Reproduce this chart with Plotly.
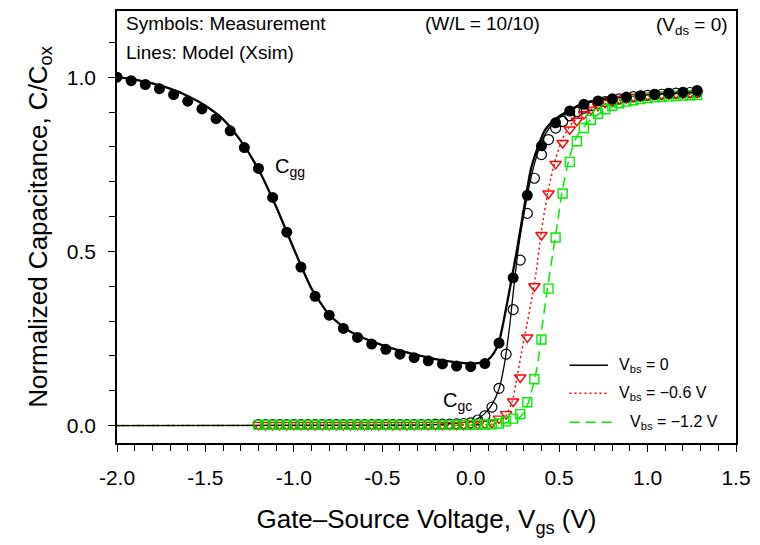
import plotly.graph_objects as go

# ---------------- measured data ----------------
# Cgg sweep (filled circles)
vgs_cgg = [-2.00, -1.92, -1.84, -1.76, -1.68, -1.60, -1.52, -1.44, -1.36, -1.28,
           -1.20, -1.12, -1.04, -0.96, -0.88, -0.80, -0.72, -0.64, -0.56, -0.48,
           -0.40, -0.32, -0.24, -0.16, -0.08, 0.00, 0.08, 0.16, 0.24, 0.32,
           0.40, 0.48, 0.56, 0.64, 0.72, 0.80, 0.88, 0.96, 1.04, 1.12,
           1.20, 1.28]
cgg_meas = [1.000, 0.990, 0.979, 0.967, 0.950, 0.931, 0.909, 0.881, 0.846, 0.798,
            0.738, 0.655, 0.555, 0.455, 0.371, 0.317, 0.279, 0.253, 0.234, 0.219,
            0.205, 0.195, 0.186, 0.177, 0.171, 0.169, 0.178, 0.237, 0.424, 0.661,
            0.803, 0.869, 0.903, 0.922, 0.932, 0.938, 0.943, 0.947, 0.951, 0.954,
            0.957, 0.962]

# Cgc sweeps for three body biases
vgs_cgc = [-1.20, -1.16, -1.12, -1.08, -1.04, -1.00, -0.96, -0.92, -0.88, -0.84,
           -0.80, -0.76, -0.72, -0.68, -0.64, -0.60, -0.56, -0.52, -0.48, -0.44,
           -0.40, -0.36, -0.32, -0.28, -0.24, -0.20, -0.16, -0.12, -0.08, -0.04,
           0.00, 0.04, 0.08, 0.12, 0.16, 0.20, 0.24, 0.28, 0.32, 0.36,
           0.40, 0.44, 0.48, 0.52, 0.56, 0.60, 0.64, 0.68, 0.72, 0.76,
           0.80, 0.84, 0.88, 0.92, 0.96, 1.00, 1.04, 1.08, 1.12, 1.16,
           1.20, 1.24, 1.28]
cgc_vbs0 = [0.003, 0.003, 0.003, 0.003, 0.003, 0.003, 0.003, 0.003, 0.003, 0.003,
            0.003, 0.003, 0.003, 0.003, 0.003, 0.003, 0.003, 0.003, 0.003, 0.003,
            0.003, 0.003, 0.003, 0.003, 0.003, 0.004, 0.004, 0.004, 0.005, 0.006,
            0.008, 0.016, 0.028, 0.053, 0.107, 0.205, 0.333, 0.475, 0.609, 0.710,
            0.778, 0.821, 0.854, 0.873, 0.889, 0.901, 0.911, 0.918, 0.925, 0.930,
            0.934, 0.938, 0.941, 0.944, 0.946, 0.948, 0.950, 0.951, 0.953, 0.954,
            0.955, 0.956, 0.957]
cgc_vbs06 = [0.002, 0.002, 0.002, 0.002, 0.002, 0.002, 0.002, 0.002, 0.002, 0.002,
             0.002, 0.002, 0.002, 0.002, 0.002, 0.002, 0.002, 0.002, 0.002, 0.002,
             0.002, 0.002, 0.002, 0.002, 0.002, 0.002, 0.002, 0.002, 0.002, 0.002,
             0.003, 0.004, 0.005, 0.008, 0.020, 0.033, 0.069, 0.138, 0.253, 0.400,
             0.547, 0.666, 0.751, 0.811, 0.850, 0.875, 0.894, 0.907, 0.918, 0.926,
             0.932, 0.937, 0.940, 0.943, 0.945, 0.947, 0.949, 0.950, 0.951, 0.952,
             0.953, 0.954, 0.955]
cgc_vbs12 = [0.002, 0.002, 0.002, 0.002, 0.002, 0.002, 0.002, 0.002, 0.002, 0.002,
             0.002, 0.002, 0.002, 0.002, 0.002, 0.002, 0.002, 0.002, 0.002, 0.002,
             0.002, 0.002, 0.002, 0.002, 0.002, 0.002, 0.002, 0.002, 0.002, 0.002,
             0.002, 0.003, 0.003, 0.004, 0.006, 0.012, 0.020, 0.033, 0.067, 0.133,
             0.247, 0.393, 0.540, 0.666, 0.757, 0.816, 0.854, 0.878, 0.895, 0.908,
             0.918, 0.925, 0.930, 0.934, 0.937, 0.940, 0.942, 0.944, 0.945, 0.946,
             0.947, 0.948, 0.949]

# ---------------- model curves (Xsim) ----------------
cgg_model_v = [-2.0, -1.9, -1.8, -1.7, -1.6, -1.5, -1.4, -1.3, -1.2, -1.1,
               -1.0, -0.9, -0.8, -0.7, -0.6, -0.5, -0.4, -0.3, -0.2, -0.1,
               0.0, 0.05, 0.1, 0.13, 0.16, 0.19, 0.22, 0.26, 0.30, 0.34,
               0.38, 0.42, 0.48, 0.56, 0.65, 0.8, 1.0, 1.3]
cgg_model_c = [1.000, 0.993, 0.982, 0.967, 0.946, 0.918, 0.879, 0.817, 0.735, 0.628,
               0.507, 0.393, 0.318, 0.276, 0.250, 0.231, 0.215, 0.202, 0.191, 0.183,
               0.178, 0.180, 0.190, 0.207, 0.240, 0.310, 0.390, 0.500, 0.620, 0.735,
               0.800, 0.848, 0.880, 0.906, 0.926, 0.941, 0.951, 0.960]

cgc0_model_v = [-2.0, -0.4, -0.2, -0.1, 0.0, 0.04, 0.08, 0.12, 0.16, 0.19,
                0.22, 0.24, 0.26, 0.28, 0.30, 0.32, 0.34, 0.38, 0.42, 0.47,
                0.55, 0.65, 0.8, 1.0, 1.3]
cgc0_model_c = [0.000, 0.001, 0.003, 0.006, 0.012, 0.020, 0.035, 0.060, 0.105, 0.175,
                0.285, 0.380, 0.470, 0.545, 0.605, 0.660, 0.710, 0.785, 0.835, 0.870,
                0.900, 0.925, 0.942, 0.950, 0.956]

cgc06_model_v = [-2.0, -0.2, 0.0, 0.1, 0.16, 0.2, 0.235, 0.255, 0.28, 0.31,
                 0.34, 0.37, 0.40, 0.44, 0.48, 0.52, 0.58, 0.66, 0.8, 1.0, 1.3]
cgc06_model_c = [0.000, 0.001, 0.003, 0.010, 0.018, 0.030, 0.070, 0.120, 0.190, 0.270,
                 0.350, 0.440, 0.560, 0.680, 0.765, 0.825, 0.872, 0.903, 0.930, 0.945,
                 0.952]

cgc12_model_v = [-2.0, 0.0, 0.1, 0.2, 0.25, 0.28, 0.31, 0.33, 0.36, 0.38,
                 0.40, 0.43, 0.46, 0.49, 0.52, 0.56, 0.6, 0.66, 0.74, 0.85,
                 1.0, 1.3]
cgc12_model_c = [0.000, 0.001, 0.003, 0.008, 0.015, 0.025, 0.045, 0.073, 0.130, 0.180,
                 0.270, 0.380, 0.480, 0.580, 0.680, 0.773, 0.830, 0.870, 0.900, 0.925,
                 0.937, 0.945]

# ---------------- axis ticks ----------------
x_tick_vals = [-2.0, -1.5, -1.0, -0.5, 0.0, 0.5, 1.0, 1.5]
x_tick_text = ["-2.0", "-1.5", "-1.0", "-0.5", "0.0", "0.5", "1.0", "1.5"]
y_tick_vals = [0.0, 0.5, 1.0]
y_tick_text = ["0.0", "0.5", "1.0"]

FONT = "Liberation Sans, Arial, sans-serif"
RED = "#ff0000"
GREEN = "#00ee00"

fig = go.Figure()

# model lines
fig.add_trace(go.Scatter(x=cgc12_model_v, y=cgc12_model_c, mode="lines",
                         line=dict(color=GREEN, width=1.5, dash="10px,6px", shape="spline", smoothing=0.6),
                         showlegend=False))
fig.add_trace(go.Scatter(x=cgc06_model_v, y=cgc06_model_c, mode="lines",
                         line=dict(color=RED, width=1.5, dash="2px,3px", shape="spline", smoothing=0.6),
                         showlegend=False))
fig.add_trace(go.Scatter(x=cgc0_model_v, y=cgc0_model_c, mode="lines",
                         line=dict(color="black", width=1.3, shape="spline", smoothing=0.6),
                         showlegend=False))
fig.add_trace(go.Scatter(x=cgg_model_v, y=cgg_model_c, mode="lines",
                         line=dict(color="black", width=2.3, shape="spline", smoothing=0.6),
                         showlegend=False))

# measured symbols
fig.add_trace(go.Scatter(x=vgs_cgc, y=cgc_vbs0, mode="markers",
                         marker=dict(symbol="circle-open", size=10, color="black",
                                     line=dict(width=1.2, color="black")),
                         showlegend=False))
fig.add_trace(go.Scatter(x=vgs_cgc, y=cgc_vbs06, mode="markers",
                         marker=dict(symbol="triangle-down-open", size=10, color=RED,
                                     line=dict(width=1.4, color=RED)),
                         showlegend=False))
fig.add_trace(go.Scatter(x=vgs_cgc, y=cgc_vbs12, mode="markers",
                         marker=dict(symbol="square-open", size=9, color=GREEN,
                                     line=dict(width=1.4, color=GREEN)),
                         showlegend=False))
fig.add_trace(go.Scatter(x=vgs_cgg, y=cgg_meas, mode="markers",
                         marker=dict(symbol="circle", size=11, color="black"),
                         showlegend=False))

# legend keys drawn as short line samples with labels
legend_items = [
    ("V<sub>bs</sub> = 0", "black", "solid", 1.5, 0.731, 0.793, 0.180, 0.808),
    ("V<sub>bs</sub> = \u22120.6 V", RED, "2px,3px", 1.5, 0.731, 0.793, 0.115, 0.808),
    ("V<sub>bs</sub> = \u22121.2 V", GREEN, "10px,6px", 1.5, 0.731, 0.801, 0.048, 0.825),
]
for label, col, dash, w, x0, x1, yy, xt in legend_items:
    fig.add_shape(type="line", xref="paper", yref="paper", x0=x0, x1=x1, y0=yy, y1=yy,
                  line=dict(color=col, width=w, dash=dash))
    fig.add_annotation(xref="paper", yref="paper", x=xt, y=yy, text=label,
                       showarrow=False, xanchor="left", yanchor="middle",
                       font=dict(family=FONT, size=16, color="black"))

# header notes
hdr = dict(family=FONT, size=19, color="black")
fig.add_annotation(xref="paper", yref="paper", x=0.011, y=0.97, text="Symbols: Measurement",
                   showarrow=False, xanchor="left", yanchor="middle", font=hdr)
fig.add_annotation(xref="paper", yref="paper", x=0.011, y=0.905, text="Lines: Model (Xsim)",
                   showarrow=False, xanchor="left", yanchor="middle", font=hdr)
fig.add_annotation(xref="paper", yref="paper", x=0.59, y=0.97, text="(W/L = 10/10)",
                   showarrow=False, xanchor="center", yanchor="middle", font=hdr)
fig.add_annotation(xref="paper", yref="paper", x=0.99, y=0.965, text="(V<sub>ds</sub> = 0)",
                   showarrow=False, xanchor="right", yanchor="middle", font=hdr)

# curve labels
fig.add_annotation(x=-1.12, y=0.74, text="C<sub>gg</sub>", showarrow=False,
                   xanchor="left", yanchor="middle", font=dict(family=FONT, size=20, color="black"))
fig.add_annotation(x=-0.17, y=0.07, text="C<sub>gc</sub>", showarrow=False,
                   xanchor="left", yanchor="middle", font=dict(family=FONT, size=20, color="black"))

axis_common = dict(
    showgrid=False, zeroline=False, showline=True, mirror=True,
    linecolor="black", linewidth=1.5,
    ticks="outside", ticklen=7, tickwidth=1.3, tickcolor="black",
    tickfont=dict(family=FONT, size=21, color="black"),
)

fig.update_layout(
    width=760, height=545,
    margin=dict(l=117, r=19, t=9, b=102),
    paper_bgcolor="white", plot_bgcolor="white",
    showlegend=False,
    xaxis=dict(
        range=[-2.0, 1.5], tickmode="array", tickvals=x_tick_vals, ticktext=x_tick_text,
        minor=dict(tickmode="linear", tick0=0, dtick=0.1, ticks="outside", ticklen=6,
                   tickwidth=1.2, tickcolor="black"),
        ticklabelstandoff=8,
        title=dict(text="Gate\u2013Source Voltage, V<sub>gs</sub> (V)",
                   font=dict(family=FONT, size=26, color="black"), standoff=22),
        **axis_common,
    ),
    yaxis=dict(
        range=[-0.05, 1.19], tickmode="array", tickvals=y_tick_vals, ticktext=y_tick_text,
        minor=dict(tickmode="linear", tick0=0, dtick=0.1, ticks="outside", ticklen=6,
                   tickwidth=1.2, tickcolor="black"),
        ticklabelstandoff=8,
        title=dict(text="Normalized Capacitance, C/C<sub>ox</sub>",
                   font=dict(family=FONT, size=26, color="black"), standoff=12),
        **axis_common,
    ),
)

fig.write_html("out.html")
